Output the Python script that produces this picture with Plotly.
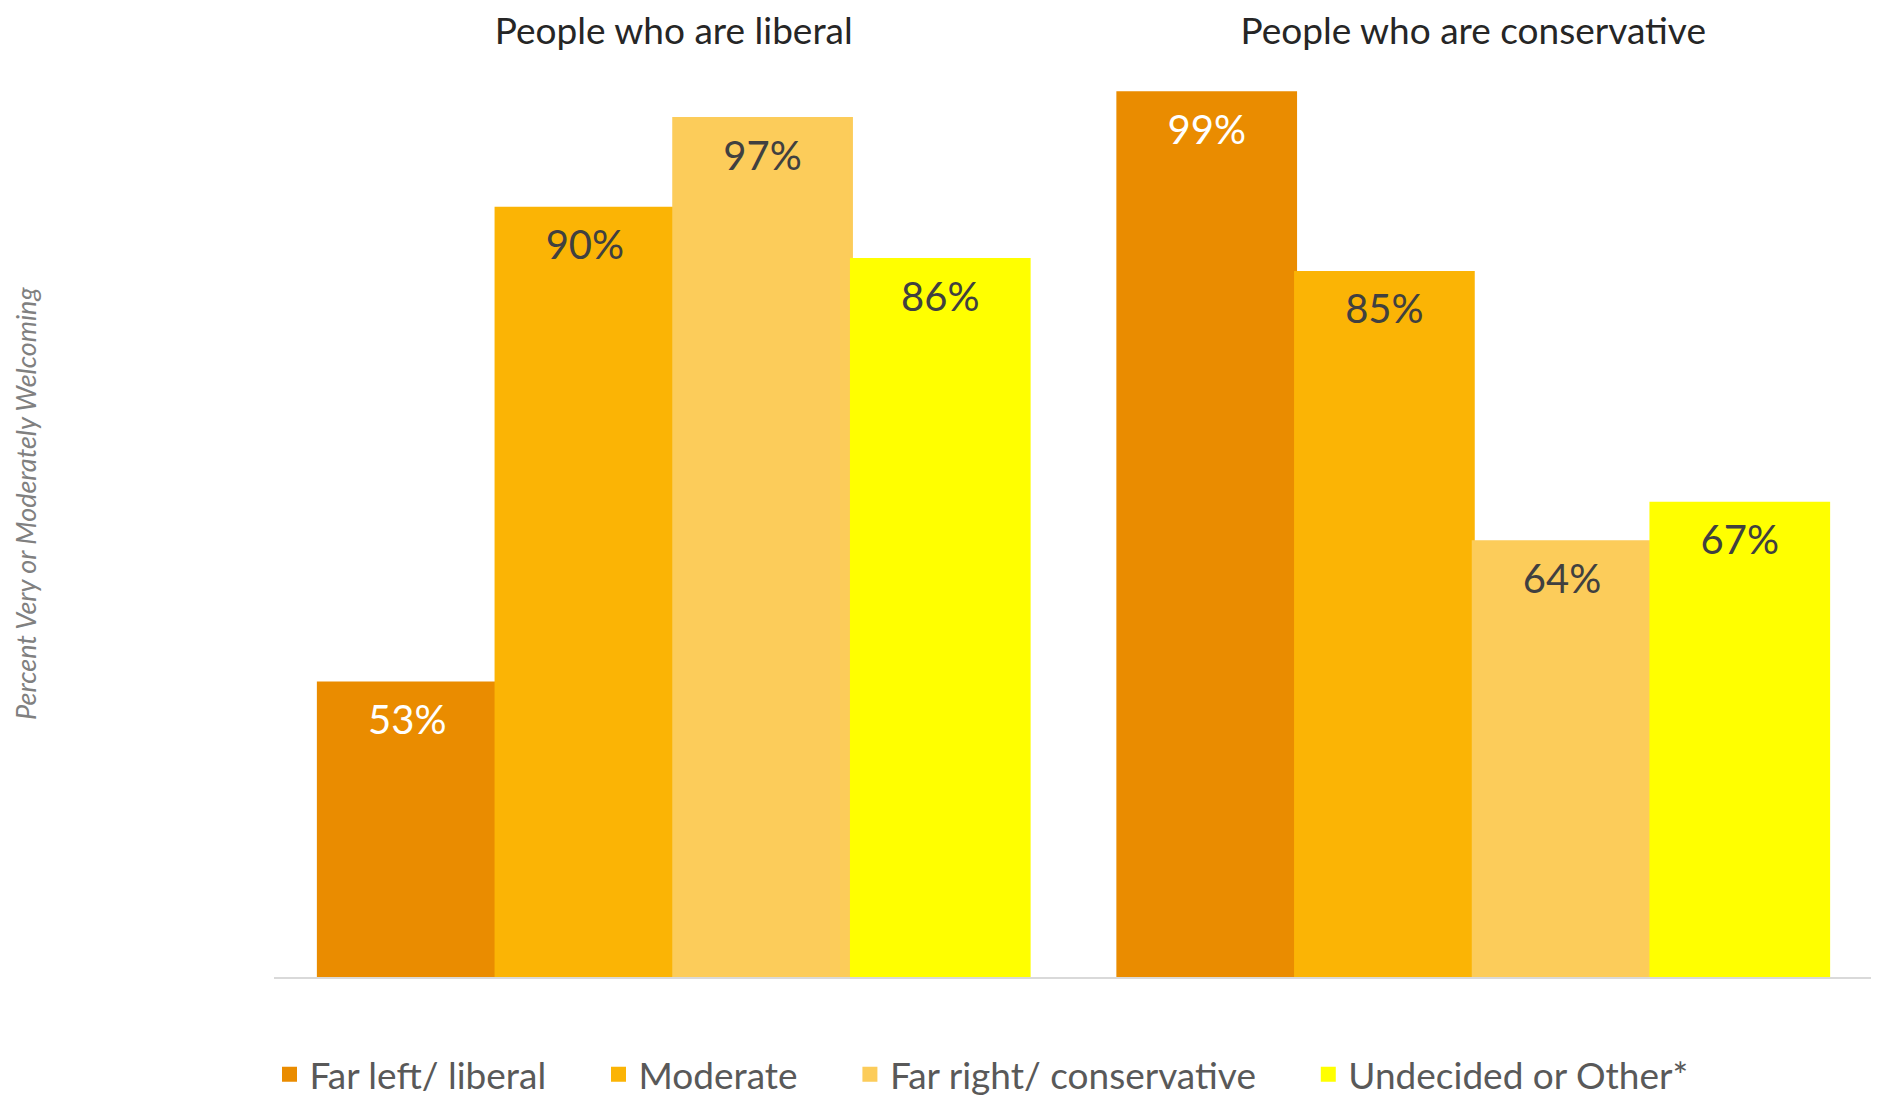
import plotly.graph_objects as go

groups = ["People who are liberal", "People who are conservative"]
series = ["Far left/ liberal", "Moderate", "Far right/ conservative", "Undecided or Other*"]
far_left = [53, 99]
moderate = [90, 85]
far_right = [97, 64]
undecided = [86, 67]
values = [far_left, moderate, far_right, undecided]

colors = ["#EA8C00", "#FBB405", "#FCCC5A", "#FFFF00"]
label_colors = ["#FFFFFF", "#404040", "#404040", "#404040"]
FONT = "Lato"
PAD = "\u00a0" * 5

fig = go.Figure()
for i, (name, vals) in enumerate(zip(series, values)):
    fig.add_trace(go.Bar(
        x=groups, y=vals, name=name + PAD,
        marker=dict(color=colors[i], line=dict(width=3, color=colors[i])),
        offsetgroup=str(i), hoverinfo="skip",
    ))
for i, vals in enumerate(values):
    fig.add_trace(go.Scatter(
        x=groups, y=vals, mode="markers+text",
        text=[f"{v}%" for v in vals], textposition="bottom center",
        marker=dict(size=32, opacity=0),
        textfont=dict(family=FONT, size=40, color=label_colors[i]),
        offsetgroup=str(i), showlegend=False, hoverinfo="skip",
    ))

H = 1130
fig.update_layout(
    width=1879, height=H,
    margin=dict(l=266, r=14, t=72, b=H - 970.3),
    paper_bgcolor="white", plot_bgcolor="white",
    barmode="group", scattermode="group",
    bargap=0.111, bargroupgap=0, scattergap=0.111,
    font=dict(family=FONT, color="#595959"),
    xaxis=dict(side="top", showline=False, showgrid=False, ticks="", automargin=False,
               tickfont=dict(family=FONT, size=37, color="#262626"),
               ticklabelstandoff=28),
    yaxis=dict(range=[30, 100], visible=False, showgrid=False, zeroline=False,
               automargin=False),
    legend=dict(orientation="h", x=-0.0028, xanchor="left", y=-0.1076, yanchor="middle",
                font=dict(family=FONT, size=37, color="#595959"),
                traceorder="normal", itemclick=False),
    shapes=[dict(type="line", xref="paper", yref="paper", x0=0, x1=1, y0=0, y1=0,
                 line=dict(color="#D9D9D9", width=2), layer="above")],
    annotations=[dict(text="<i>Percent Very or Moderately Welcoming</i>",
                      xref="paper", yref="paper", x=-0.1551, y=0.529,
                      xanchor="center", yanchor="middle",
                      textangle=-90, showarrow=False,
                      font=dict(family=FONT, size=27, color="#808080"))],
)

fig.write_html("out.html")
